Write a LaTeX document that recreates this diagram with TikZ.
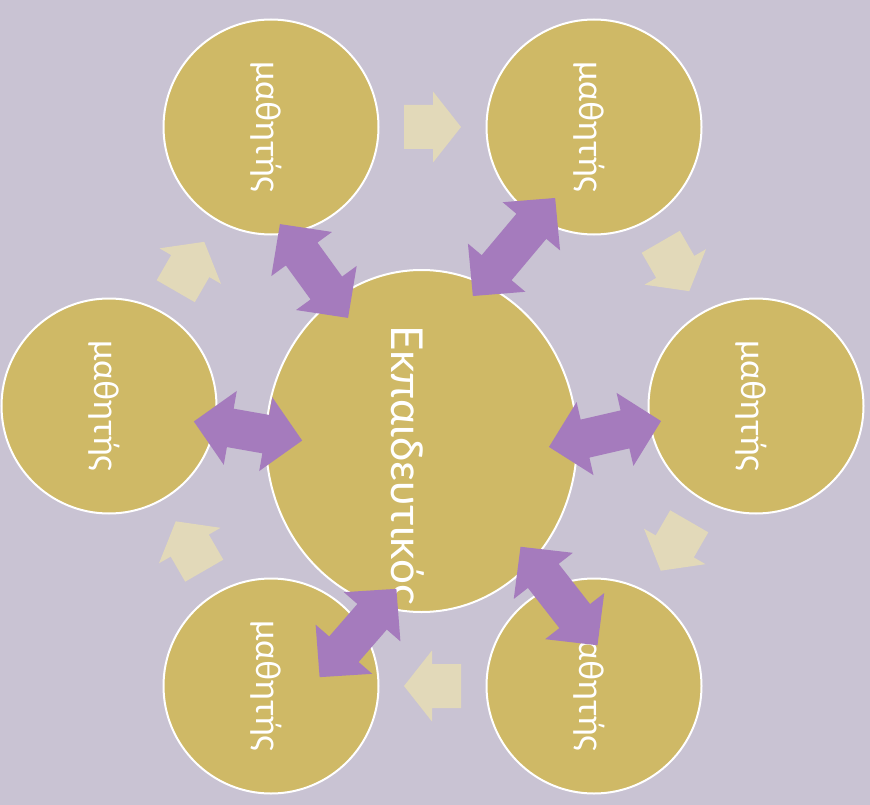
\documentclass[tikz,border=0pt]{standalone}
\usepackage{fontspec}
\setmainfont{Lato}
\usetikzlibrary{shapes.geometric}
\definecolor{backdrop}{HTML}{C9C3D3}
\definecolor{gold}{HTML}{CFB966}
\definecolor{mauve}{HTML}{A57BBD}
\definecolor{cream}{HTML}{E2D9B9}
\tikzset{
    pupil/.style = {circle, draw=white, fill=gold, line width=2pt, minimum size=215pt, inner sep=0pt},
    pupil-text/.style = {rotate=-90, text=white, inner sep=0pt, font=\fontsize{34}{34}\selectfont},
    teacher/.style = {ellipse, draw=white, fill=gold, line width=2pt, minimum width=311pt, minimum height=342pt, inner sep=0pt},
    teacher-text/.style = {rotate=-90, text=white, inner sep=0pt, font=\fontsize{44}{44}\selectfont},
    pics/flow-arrow/.style = {code={
        \fill[cream] (-28.5,-22) -- (0.5,-22) -- (0.5,-35.5) -- (28.5,0) -- (0.5,35.5) -- (0.5,22) -- (-28.5,22) -- cycle;
    }},
    pics/link-arrow/.style = {code={
        \fill[mauve] (-#1/2,0) -- (-#1/2+37,-37.5) -- (-#1/2+37,-19.5) -- (#1/2-37,-19.5) -- (#1/2-37,-37.5)
            -- (#1/2,0) -- (#1/2-37,37.5) -- (#1/2-37,19.5) -- (-#1/2+37,19.5) -- (-#1/2+37,37.5) -- cycle;
    }},
}
\begin{document}
\begin{tikzpicture}[x=1pt, y=-1pt]
\fill[backdrop] (0,0) rectangle (870,805);
\useasboundingbox (0,0) rectangle (870,805);

% the six pupils and the teacher
\node[pupil] (tl) at (271,127) {};
\node[pupil] (tr) at (594,127) {};
\node[pupil] (r) at (756,406) {};
\node[pupil] (br) at (594,686) {};
\node[pupil] (bl) at (271,686) {};
\node[pupil] (l) at (109,406) {};
\node[teacher] (teach) at (421.5,441) {};

\foreach \p in {tl,tr,r,br,bl,l}
    \node[pupil-text] (\p-name) at ([xshift=-5pt]\p.center) {μαθητής};
\node[teacher-text] (teach-name) at (404,465) {Εκπαιδευτικός};

% cycle between pupils
\pic at (432.5,127) {flow-arrow};
\pic[rotate=-60] at (675,266.5) {flow-arrow};
\pic[rotate=-120] at (675,546) {flow-arrow};
\pic[rotate=180] at (432.5,686) {flow-arrow};
\pic[rotate=120] at (190,546) {flow-arrow};
\pic[rotate=60] at (190,266.5) {flow-arrow};

% teacher <-> pupil
\pic[rotate=126] at (314,271) {link-arrow=116};
\pic[rotate=50] at (514,247) {link-arrow=128};
\pic[rotate=13] at (605,434) {link-arrow=115};
\pic[rotate=-52] at (559,596) {link-arrow=125};
\pic[rotate=49] at (358,633) {link-arrow=117};
\pic[rotate=-10] at (248,431) {link-arrow=110};
\end{tikzpicture}
\end{document}
